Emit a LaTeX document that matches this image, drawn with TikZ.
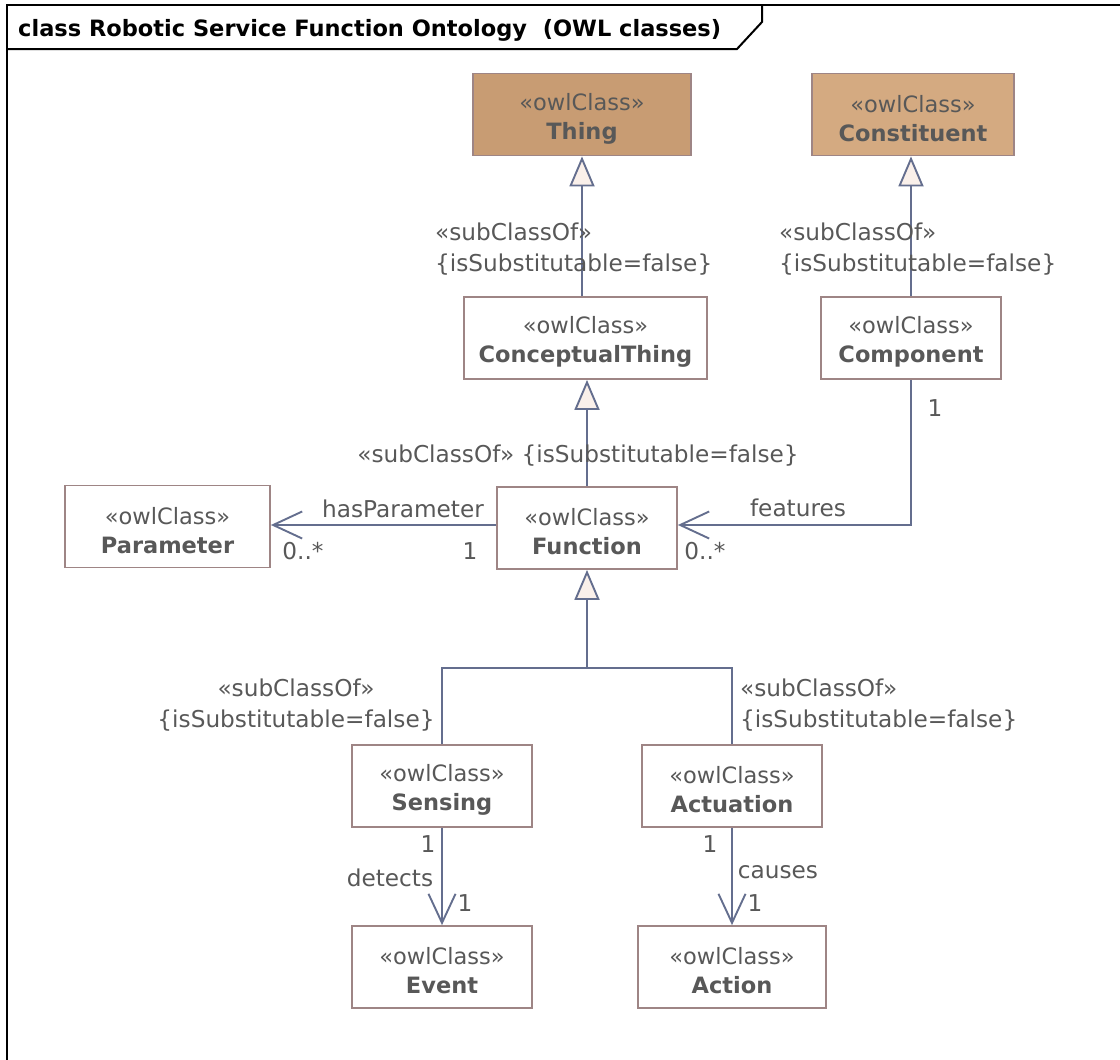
\documentclass[tikz,border=0pt]{standalone}
\usepackage{fontspec}
\setmainfont{DejaVu Sans}
\usetikzlibrary{arrows.meta,calc}
\definecolor{bordc}{RGB}{158,133,133}
\definecolor{txtc}{RGB}{88,88,88}
\definecolor{linec}{RGB}{100,110,142}
\definecolor{trif}{RGB}{250,240,234}
\definecolor{thingf}{RGB}{200,156,115}
\definecolor{constf}{RGB}{212,170,129}
\tikzset{
  cls/.style={draw=bordc, line width=1.8pt, fill=white, align=center, text=txtc,
    font=\fontsize{22.5}{29}\selectfont, inner sep=0pt, minimum height=82pt},
  conn/.style={draw=linec, line width=2pt},
  gen/.style={conn, -{Triangle[length=30pt,width=25pt,fill=trif,line width=1.9pt]}},
  assoc/.style={conn, -{Straight Barb[length=29pt,width=27pt,line width=1.9pt]}},
  lbl/.style={text=txtc, font=\fontsize{23.2}{31}\selectfont, inner sep=0pt},
}
\newcommand{\owl}[1]{\rule{0pt}{25pt}\guillemotleft owlClass\guillemotright\\\textbf{#1}}
\begin{document}
\begin{tikzpicture}[x=1pt,y=-1pt]
\useasboundingbox (0,0) rectangle (1120,1060);
% frame
\draw[line width=2pt] (7,1062) -- (7,5) -- (1122,5);
\draw[line width=2pt] (7,49) -- (737,49) -- (762,22) -- (762,5);
\node[anchor=base west, inner sep=0pt, font=\fontsize{22.5}{27}\selectfont\bfseries] (title) at (18,36) {class Robotic Service Function Ontology\ \ (OWL classes)};
% classes
\node[cls, fill=thingf, minimum width=218pt] (thing) at (582,114.5) {\owl{Thing}};
\node[cls, fill=constf, minimum width=202pt] (const) at (913,114.5) {\owl{Constituent}};
\node[cls, minimum width=243pt] (concept) at (585.5,338) {\owl{ConceptualThing}};
\node[cls, minimum width=180pt] (comp) at (911,338) {\owl{Component}};
\node[cls, minimum width=205pt] (param) at (167.5,526.5) {\owl{Parameter}};
\node[cls, minimum width=180pt] (func) at (587,528) {\owl{Function}};
\node[cls, minimum width=180pt] (sens) at (442,786) {\owl{Sensing}};
\node[cls, minimum width=180pt] (act) at (732,786) {\owl{Actuation}};
\node[cls, minimum width=180pt] (event) at (442,967) {\owl{Event}};
\node[cls, minimum width=188pt] (action) at (732,967) {\owl{Action}};
% generalizations
\draw[gen] (thing.south |- concept.north) -- (thing.south);
\draw[gen] (comp.north) -- (comp.north |- const.south);
\draw[gen] (func.north) -- (func.north |- concept.south);
\coordinate (fj) at (587,668);
\draw[conn] (sens.north) |- (fj);
\draw[conn] (act.north) |- (fj);
\draw[gen] (fj) -- (func.south);
% associations
\coordinate (hp) at (func.west |- 0,525);
\draw[assoc] (hp) -- (hp -| param.east);
\coordinate (ft) at (func.east |- 0,525);
\draw[assoc] (comp.south) |- (ft);
\draw[assoc] (sens.south) -- (event.north);
\draw[assoc] (act.south) -- (action.north);
% labels
\node[lbl, align=left, anchor=west] (l1) at (435,249) {\guillemotleft subClassOf\guillemotright\\\{isSubstitutable=false\}};
\node[lbl, align=left, anchor=west] (l2) at (779,249) {\guillemotleft subClassOf\guillemotright\\\{isSubstitutable=false\}};
\node[lbl] (l3) at (578,456) {\guillemotleft subClassOf\guillemotright\ \{isSubstitutable=false\}};
\node[lbl, align=center] (l4) at (296,705) {\guillemotleft subClassOf\guillemotright\\\{isSubstitutable=false\}};
\node[lbl, align=left, anchor=west] (l5) at (740,705) {\guillemotleft subClassOf\guillemotright\\\{isSubstitutable=false\}};
\node[lbl] (hpn) at (403,509) {hasParameter};
\node[lbl] (hpm1) at (303,551) {0..*};
\node[lbl] (hpm2) at (470,551) {1};
\node[lbl] (ftn) at (798,508) {features};
\node[lbl] (ftm1) at (705,551) {0..*};
\node[lbl] (ftm2) at (935,408) {1};
\node[lbl] (dm1) at (428,844) {1};
\node[lbl] (dn) at (390,878) {detects};
\node[lbl] (dm2) at (465,903) {1};
\node[lbl] (cm1) at (710,844) {1};
\node[lbl] (cn) at (778,872) {causes};
\node[lbl] (cm2) at (755,903) {1};
\end{tikzpicture}
\end{document}
